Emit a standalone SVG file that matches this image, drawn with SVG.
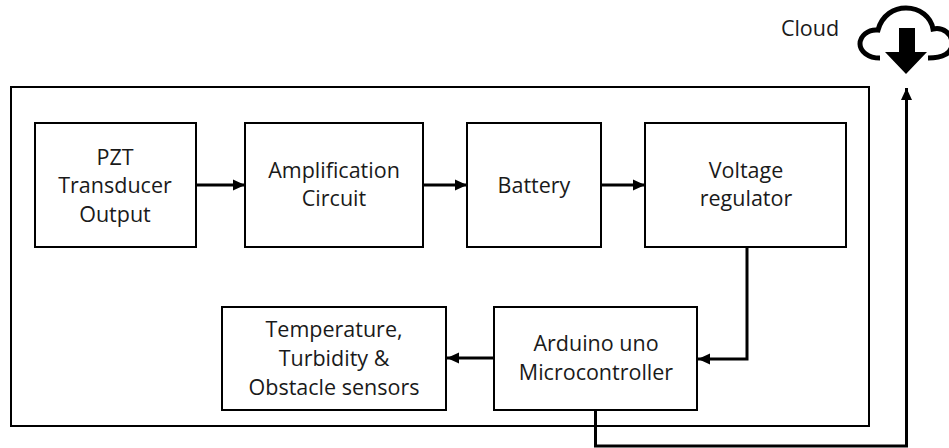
<svg xmlns="http://www.w3.org/2000/svg" width="949" height="448" viewBox="0 0 949 448">
<defs>
<marker id="ah" markerUnits="userSpaceOnUse" markerWidth="13" markerHeight="12" refX="12" refY="6" orient="auto"><path d="M0 0.5L12 6L0 11.5Z" fill="#000"/></marker>
</defs>
<style>
.b{fill:#fff;stroke:#000;stroke-width:2}
.t{font-family:"Open Sans","Noto Sans",sans-serif;font-size:21.5px;fill:#1a1a1a;text-anchor:middle}
.c{fill:none;stroke:#000;stroke-width:3}
</style>
<rect width="949" height="448" fill="#fff"/>
<g id="frame"><rect class="b" x="11" y="87" width="858" height="339"/></g>
<g id="pzt"><rect class="b" x="35" y="123" width="161" height="124"/><text class="t" x="115" y="165">PZT</text><text class="t" x="115" y="193">Transducer</text><text class="t" x="115" y="222">Output</text></g>
<g id="amp"><rect class="b" x="245" y="123" width="178" height="124"/><text class="t" x="334" y="178">Amplification</text><text class="t" x="334" y="206">Circuit</text></g>
<g id="battery"><rect class="b" x="467" y="123" width="134" height="124"/><text class="t" x="534" y="193">Battery</text></g>
<g id="regulator"><rect class="b" x="645" y="123" width="201" height="124"/><text class="t" x="746" y="178">Voltage</text><text class="t" x="746" y="206">regulator</text></g>
<g id="arduino"><rect class="b" x="494" y="307" width="203" height="103"/><text class="t" x="596" y="351">Arduino uno</text><text class="t" x="596" y="380">Microcontroller</text></g>
<g id="sensors"><rect class="b" x="222" y="307" width="224" height="103"/><text class="t" x="334" y="337">Temperature,</text><text class="t" x="334" y="366">Turbidity &amp;</text><text class="t" x="334" y="395">Obstacle sensors</text></g>
<g id="cloud"><text class="t" x="810" y="36">Cloud</text>
<path d="M880 58C868 58 860 51 860 44C860 36 868 29 878 30C882 15 894 8 906 8C920 8 931 17 933 29C943 27 952 33 952 44C952 53 943 58 928 58" fill="none" stroke="#000" stroke-width="5"/>
<path d="M899 28H915V52H927L906 74L885 52H899Z" fill="#000"/></g>
<g id="connectors">
<path class="c" d="M196 185H245" marker-end="url(#ah)"/>
<path class="c" d="M423 185H467" marker-end="url(#ah)"/>
<path class="c" d="M601 185H645" marker-end="url(#ah)"/>
<path class="c" d="M747 247V359H698" marker-end="url(#ah)"/>
<path class="c" d="M494 358H447" marker-end="url(#ah)"/>
<path class="c" d="M595.5 410V446H906.5V88" marker-end="url(#ah)"/>
</g>
</svg>
